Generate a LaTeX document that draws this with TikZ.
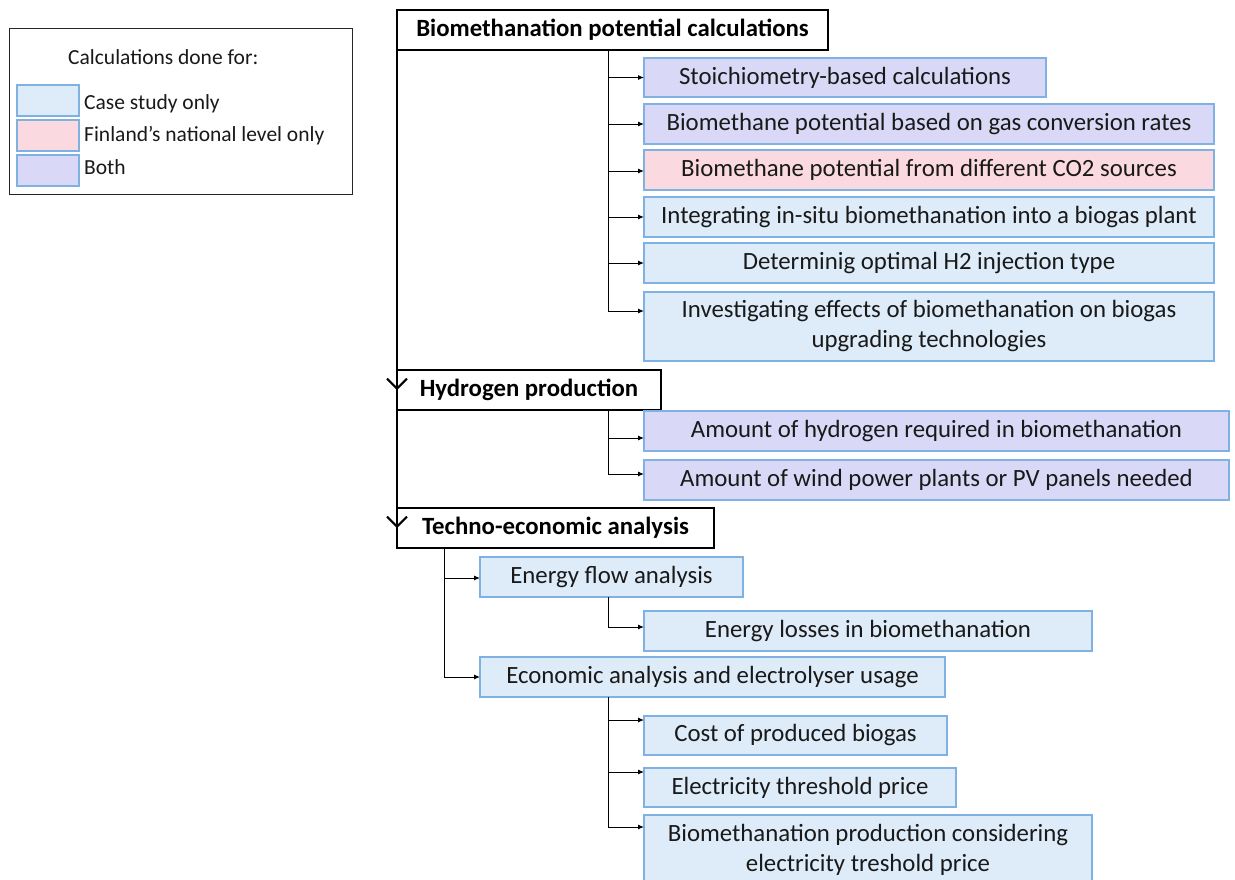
\documentclass[tikz,border=0pt]{standalone}
\usepackage{fontspec}
\setmainfont{Carlito}
\usetikzlibrary{arrows.meta}
\definecolor{bfill}{HTML}{DEEBF8}
\definecolor{pfill}{HTML}{FADAE0}
\definecolor{vfill}{HTML}{DAD8F7}
\definecolor{bord}{HTML}{7FB2E3}
\newcommand\myfs{\fontsize{24.8pt}{30pt}\selectfont}
\newcommand\mybfs{\fontsize{24.8pt}{30pt}\selectfont\bfseries}
\newcommand\mylfs{\fontsize{21.5pt}{26pt}\selectfont}
\begin{document}
\begin{tikzpicture}[x=1pt,y=-1pt,
  main/.style={draw=black,line width=1.5pt,fill=white,font=\mybfs,anchor=north west,inner sep=0pt,outer sep=0pt},
  sub/.style={draw=bord,line width=1.2pt,anchor=north west,inner sep=0pt,outer sep=0pt,font=\myfs,align=center,text=black!90},
  cs/.style={sub,fill=bfill},
  fn/.style={sub,fill=pfill},
  bo/.style={sub,fill=vfill},
  lbl/.style={anchor=west,font=\mylfs,inner sep=0pt,text=black!90},
  br/.style={line width=1pt,-{Latex[length=6pt,width=5pt]}},
  trunk/.style={line width=2.2pt,-{Straight Barb[length=10pt,width=20pt,line width=2pt]}}]
\clip (0,0) rectangle (1235,879);
\fill[white] (0,0) rectangle (1235,879);
% legend
\node[draw=black!85,line width=1pt,anchor=north west,minimum width=343pt,minimum height=166pt,inner sep=0pt] (leg) at (9,28) {};
\node[lbl] (legt) at (68,57) {Calculations done for:};
\node[cs,minimum width=62pt,minimum height=31pt] (lc) at (17,85) {};
\node[fn,minimum width=62pt,minimum height=31pt] (lf) at (17,120) {};
\node[bo,minimum width=62pt,minimum height=31pt] (lb) at (17,155) {};
\node[lbl] at ([xshift=5pt,yshift=-3pt]lc.east) {Case study only};
\node[lbl] at ([xshift=5pt]lf.east) {Finland’s national level only};
\node[lbl] at ([xshift=5pt,yshift=3pt]lb.east) {Both};
% main boxes
\node[main,minimum width=431pt,minimum height=40pt] (b1) at (397,10) {Biomethanation potential calculations};
\node[main,minimum width=264pt,minimum height=40pt] (b2) at (397,370) {Hydrogen production};
\node[main,minimum width=317pt,minimum height=40pt] (b3) at (397,508) {Techno-economic analysis};
% sub boxes (biomethanation)
\node[bo,minimum width=402pt,minimum height=39pt] (s1) at (644,58) {Stoichiometry-based calculations};
\node[bo,minimum width=570pt,minimum height=40pt] (s2) at (644,104) {Biomethane potential based on gas conversion rates};
\node[fn,minimum width=570pt,minimum height=40pt] (s3) at (644,150) {Biomethane potential from different CO2 sources};
\node[cs,minimum width=570pt,minimum height=40pt] (s4) at (644,197) {Integrating in-situ biomethanation into a biogas plant};
\node[cs,minimum width=570pt,minimum height=40pt] (s5) at (644,243) {Determinig optimal H2 injection type};
\node[cs,minimum width=570pt,minimum height=69pt] (s6) at (644,292) {Investigating effects of biomethanation on biogas\\upgrading technologies};
% hydrogen
\node[bo,minimum width=585pt,minimum height=40pt] (h1) at (644,411) {Amount of hydrogen required in biomethanation};
\node[bo,minimum width=585pt,minimum height=40pt] (h2) at (644,460) {Amount of wind power plants or PV panels needed};
% techno-economic
\node[cs,minimum width=263pt,minimum height=40pt] (t1) at (480,557) {Energy flow analysis};
\node[cs,minimum width=448pt,minimum height=40pt] (t2) at (644,611) {Energy losses in biomethanation};
\node[cs,minimum width=465pt,minimum height=40pt] (t3) at (480,657) {Economic analysis and electrolyser usage};
\node[cs,minimum width=303pt,minimum height=39pt] (t4) at (644,716) {Cost of produced biogas};
\node[cs,minimum width=312pt,minimum height=39pt] (t5) at (644,768) {Electricity threshold price};
\node[cs,minimum width=448pt,minimum height=70pt] (t6) at (644,815) {Biomethanation production considering\\electricity treshold price};
% junctions
\coordinate (j1) at (608,50);
\coordinate (j2) at (608,410);
\coordinate (j3) at (444,548);
\coordinate (j4) at (608,597);
\coordinate (j5) at (608,697);
% trunk
\draw[trunk] (b1.west) -- (b2.west);
\draw[trunk] (b2.west) -- (b3.west);
% branches
\draw[br] (j1) |- (s1.west);
\draw[br] (j1) |- (s2.west);
\draw[br] (j1) |- ([yshift=-1pt]s3.west);
\draw[br] (j1) |- (s4.west);
\draw[br] (j1) |- (s5.west);
\draw[br] (j1) |- ([yshift=-19pt]s6.north west);
\draw[br] (j2) |- ([yshift=-27pt]h1.north west);
\draw[br] (j2) |- ([yshift=-14pt]h2.north west);
\draw[br] (j3) |- ([yshift=-1pt]t1.west);
\draw[br] (j3) |- (t3.west);
\draw[br] (j4) |- ([yshift=-16pt]t2.north west);
\draw[br] (j5) |- ([yshift=-4pt]t4.north west);
\draw[br] (j5) |- ([yshift=-4pt]t5.north west);
\draw[br] (j5) |- ([yshift=-12pt]t6.north west);
\end{tikzpicture}
\end{document}
